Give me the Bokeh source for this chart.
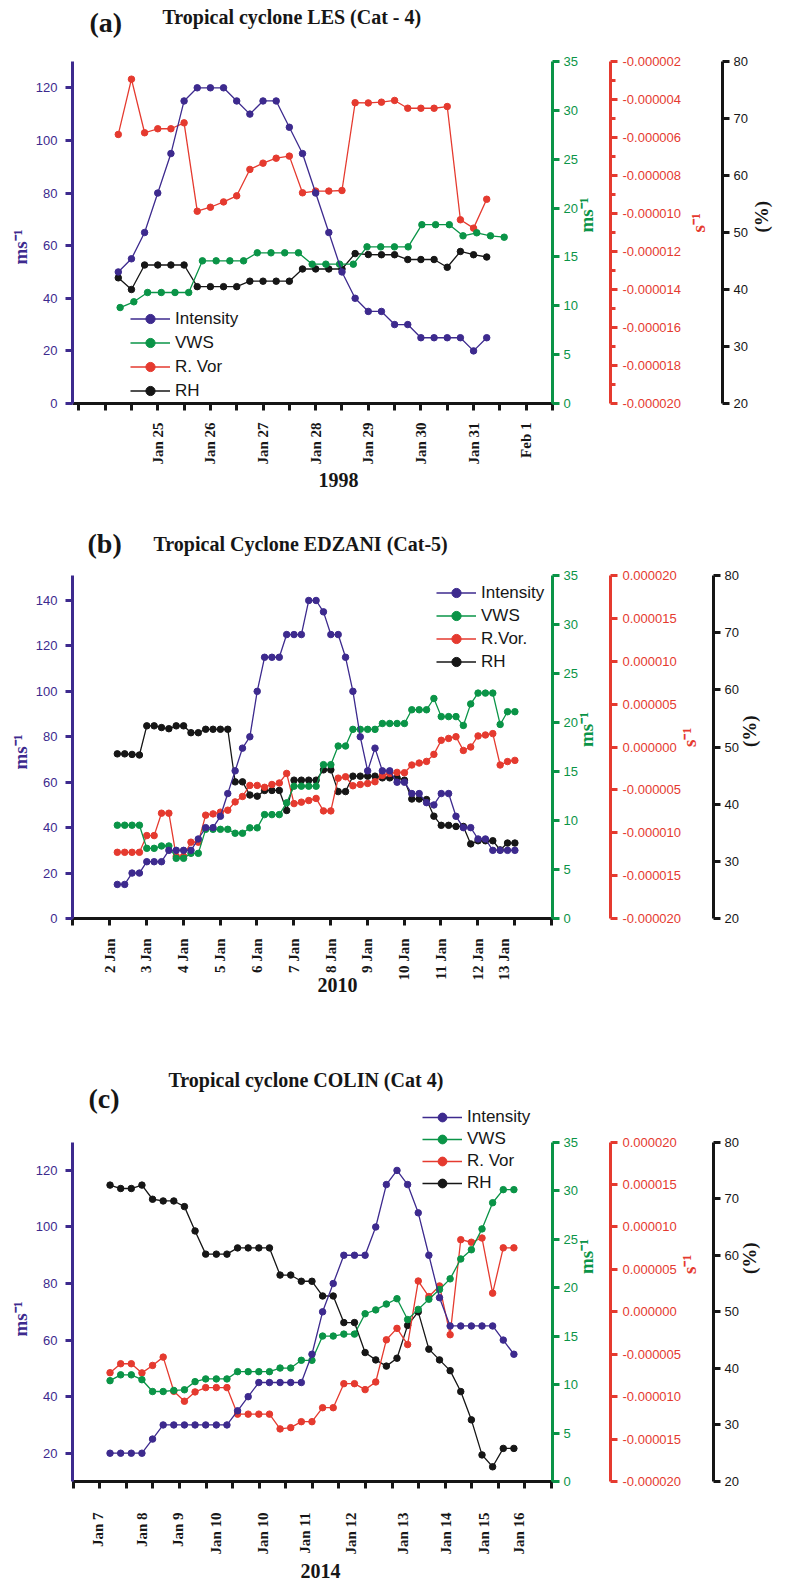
import math
from bokeh.plotting import figure
from bokeh.models import (Range1d, LinearAxis, FixedTicker, NumeralTickFormatter,
                          CustomJSTickFormatter, Legend, LegendItem, Label, Title)
from bokeh.layouts import column
from bokeh.embed import file_html
from bokeh.resources import INLINE

PURPLE = "#3d2a8e"
GREEN = "#0a9447"
RED = "#e53a2f"
BLACK = "#161616"
SERIF = "Liberation Serif"
SANS = "Liberation Sans"

# ---------------- (a) Tropical cyclone LES, 1998 ----------------
a_time0, a_dt = 24.25, 0.25          # Jan day, 6-hourly
a_vws_time0, a_vws_dt = 24.285, 0.2606
a_intensity = [50, 55, 65, 80, 95, 115, 120, 120, 120, 115, 110, 115, 115, 105, 95, 80, 65, 50,
               40, 35, 35, 30, 30, 25, 25, 25, 25, 20, 25]
a_vws = [9.82, 10.41, 11.36, 11.36, 11.36, 11.36, 14.6, 14.6, 14.6, 14.6, 15.42, 15.42, 15.42,
         15.42, 14.26, 14.26, 14.26, 14.26, 16.03, 16.03, 16.03, 16.03, 18.3, 18.3, 18.3, 17.16,
         17.47, 17.16, 17.02]
a_rvor = [-5.84e-6, -2.93e-6, -5.75e-6, -5.54e-6, -5.54e-6, -5.23e-6, -9.88e-6, -9.67e-6,
          -9.39e-6, -9.07e-6, -7.68e-6, -7.35e-6, -7.09e-6, -6.98e-6, -8.91e-6, -8.82e-6,
          -8.82e-6, -8.79e-6, -4.17e-6, -4.18e-6, -4.14e-6, -4.05e-6, -4.46e-6, -4.46e-6,
          -4.46e-6, -4.37e-6, -10.33e-6, -10.77e-6, -9.25e-6]
a_rh = [42.05, 40.0, 44.3, 44.3, 44.3, 44.3, 40.5, 40.5, 40.5, 40.5, 41.46, 41.46, 41.46, 41.46,
        43.6, 43.6, 43.6, 43.6, 46.3, 46.14, 46.1, 46.1, 45.26, 45.26, 45.26, 43.9, 46.67, 46.1,
        45.7]
a_tick_pos = [23.5, 24, 24.5, 25, 25.5, 26, 26.5, 27, 27.5, 28, 28.5, 29, 29.5, 30, 30.5, 31,
              31.5, 32, 32.5]
a_label_pos = [25, 26, 27, 28, 29, 30, 31, 32]
a_label_txt = ["Jan 25", "Jan 26", "Jan 27", "Jan 28", "Jan 29", "Jan 30", "Jan 31", "Feb 1"]

# ---------------- (b) Tropical Cyclone EDZANI, 2010 ----------------
b_time0, b_dt = 2.208, 0.2
b_intensity = [15, 15, 20, 20, 25, 25, 25, 30, 30, 30, 30, 35, 40, 40, 45, 55, 65, 75, 80, 100,
               115, 115, 115, 125, 125, 125, 140, 140, 135, 125, 125, 115, 100, 80, 65, 75, 65,
               65, 60, 60, 55, 55, 51, 50, 55, 55, 45, 40, 40, 35, 35, 30, 30, 30, 30]
b_vws = [9.52, 9.52, 9.52, 9.52, 7.16, 7.16, 7.4, 7.4, 6.14, 6.14, 6.65, 6.65, 9.1, 9.1, 9.1, 9.1,
         8.7, 8.7, 9.25, 9.25, 10.6, 10.6, 10.6, 11.8, 13.5, 13.5, 13.5, 13.5, 15.7, 15.7, 17.6,
         17.6, 19.3, 19.3, 19.3, 19.3, 19.9, 19.9, 19.9, 19.9, 21.3, 21.3, 21.3, 22.45, 20.6,
         20.6, 20.6, 19.7, 21.9, 23.0, 23.0, 23.0, 19.8, 21.1, 21.1]
b_rvor = [-12.28e-6, -12.28e-6, -12.28e-6, -12.28e-6, -10.33e-6, -10.33e-6, -7.72e-6, -7.72e-6,
          -12.75e-6, -12.75e-6, -11.1e-6, -11.1e-6, -7.95e-6, -7.8e-6, -7.6e-6, -7.37e-6,
          -6.4e-6, -5.77e-6, -4.48e-6, -4.48e-6, -4.7e-6, -4.37e-6, -4.2e-6, -3.08e-6, -6.6e-6,
          -6.43e-6, -6.24e-6, -6.0e-6, -7.45e-6, -7.45e-6, -3.63e-6, -3.47e-6, -4.52e-6,
          -4.37e-6, -4.25e-6, -4.05e-6, -3.31e-6, -3.08e-6, -2.96e-6, -3.0e-6, -2.1e-6,
          -1.87e-6, -1.68e-6, -0.86e-6, 0.78e-6, 1.0e-6, 1.2e-6, -0.4e-6, 0.0, 1.29e-6, 1.4e-6,
          1.56e-6, -2.1e-6, -1.7e-6, -1.56e-6]
b_rh = [48.8, 48.8, 48.7, 48.6, 53.7, 53.7, 53.4, 53.2, 53.7, 53.7, 52.5, 52.5, 53.1, 53.1, 53.1,
        53.1, 43.9, 43.9, 41.6, 41.4, 42.4, 42.4, 42.4, 38.9, 44.2, 44.2, 44.2, 44.2, 46.0, 46.0,
        42.2, 42.2, 44.9, 44.9, 44.9, 44.9, 44.6, 44.6, 44.6, 44.2, 40.9, 40.9, 40.8, 37.9, 36.3,
        36.3, 36.1, 36.1, 33.05, 33.6, 33.6, 33.6, 32.0, 33.2, 33.2]
b_tick_pos = [1, 2, 3, 4, 5, 6, 7, 8, 9, 10, 11, 12, 13, 14]
b_label_pos = [2, 3, 4, 5, 6, 7, 8, 9, 10, 11, 12, 12.7]
b_label_txt = ["2 Jan", "3 Jan", "4 Jan", "5 Jan", "6 Jan", "7 Jan", "8 Jan", "9 Jan", "10 Jan",
               "11 Jan", "12 Jan", "13 Jan"]

# ---------------- (c) Tropical cyclone COLIN, 2014 ----------------
c_time0, c_dt = 1.387, 0.4
c_intensity = [20, 20, 20, 20, 25, 30, 30, 30, 30, 30, 30, 30, 35, 40, 45, 45, 45, 45, 45, 55, 70,
               80, 90, 90, 90, 100, 115, 120, 115, 105, 90, 75, 65, 65, 65, 65, 65, 60, 55]
c_vws = [10.4, 11.0, 11.0, 10.5, 9.28, 9.28, 9.39, 9.46, 10.3, 10.58, 10.58, 10.58, 11.33, 11.33,
         11.33, 11.33, 11.7, 11.7, 12.5, 12.5, 15.0, 15.0, 15.2, 15.2, 17.3, 17.7, 18.3, 18.85,
         16.7, 17.75, 18.8, 19.8, 20.9, 22.95, 23.9, 26.05, 28.75, 30.1, 30.1]
c_rvor = [-7.18e-6, -6.12e-6, -6.12e-6, -7.2e-6, -6.32e-6, -5.34e-6, -9.37e-6, -10.54e-6,
          -9.44e-6, -8.93e-6, -8.93e-6, -8.93e-6, -12.06e-6, -12.06e-6, -12.06e-6, -12.06e-6,
          -13.8e-6, -13.65e-6, -12.95e-6, -12.95e-6, -11.3e-6, -11.3e-6, -8.47e-6, -8.47e-6,
          -9.17e-6, -8.27e-6, -3.3e-6, -1.95e-6, -3.86e-6, 3.63e-6, 1.8e-6, 3.05e-6, -2.7e-6,
          8.5e-6, 8.2e-6, 8.7e-6, 2.2e-6, 7.54e-6, 7.54e-6]
c_rh = [72.4, 71.8, 71.8, 72.4, 69.9, 69.6, 69.6, 68.6, 64.3, 60.2, 60.2, 60.2, 61.3, 61.3, 61.3,
        61.3, 56.5, 56.5, 55.4, 55.4, 52.8, 52.8, 48.1, 48.1, 42.8, 41.5, 40.4, 41.8, 47.6, 50.0,
        43.4, 41.5, 39.6, 35.9, 30.9, 24.7, 22.6, 25.85, 25.85]
c_tick_pos = list(range(0, 19))
c_label_pos = [0.95, 2.58, 3.95, 5.37, 7.16, 8.73, 10.44, 12.41, 14.03, 15.47, 16.79]
c_label_txt = ["Jan 7", "Jan 8", "Jan 9", "Jan 10", "Jan 10", "Jan 11", "Jan 12", "Jan 13",
               "Jan 14", "Jan 15", "Jan 16"]

SUP = "ms\u207b\u00b9"
SSUP = "s\u207b\u00b9"
W = 786
BL, BR = 72, 234          # common left / right borders (frames are aligned in the column)


def style_axis(ax, color, tick_out=7, label_standoff=6, title_standoff=4):
    ax.axis_line_color = color
    ax.axis_line_width = 3
    ax.major_tick_line_color = color
    ax.major_tick_line_width = 3
    ax.major_tick_out = tick_out
    ax.major_tick_in = 0
    ax.minor_tick_line_color = None
    ax.major_label_text_color = color
    ax.major_label_text_font = SANS
    ax.major_label_text_font_size = "13px"
    ax.major_label_standoff = label_standoff
    ax.axis_label_text_color = color
    ax.axis_label_text_font = SERIF
    ax.axis_label_text_font_style = "bold"
    ax.axis_label_text_font_size = "19px"
    ax.axis_label_standoff = title_standoff


def make_header(height, texts):
    h = figure(width=W, height=height, output_backend="svg", toolbar_location=None,
               x_range=Range1d(BL, W - BR), y_range=Range1d(height, 0),
               min_border_left=BL, min_border_right=BR, min_border_top=0, min_border_bottom=0,
               x_axis_location=None, y_axis_location=None)
    try:
        h.title = None
    except Exception:
        pass
    h.outline_line_color = None
    h.grid.visible = False
    for (px, py, txt, size) in texts:
        h.add_layout(Label(x=px, y=py, text=txt, text_font=SERIF, text_font_style="bold",
                           text_font_size=size, text_align="left", text_baseline="middle",
                           text_color=BLACK))
    return h


def make_panel(cfg):
    h, bb, bt, top_px = cfg["height"], cfg["bb"], cfg["bt"], cfg["axis_top"]
    bl, br = BL, BR
    bottom_px = h - bb
    hax = bottom_px - top_px                 # pixel height of the y axes
    hfr = bottom_px - bt                     # pixel height of the frame

    def ext(lo, hi):
        if hfr == hax:
            return (lo, hi)
        return (lo, lo + (hi - lo) * hfr / hax)

    ylo, yhi = cfg["yr"]
    p = figure(width=W, height=h, output_backend="svg", toolbar_location=None,
               x_range=Range1d(*cfg["xr"]), y_range=Range1d(*ext(ylo, yhi)),
               min_border_left=bl, min_border_right=br, min_border_top=bt, min_border_bottom=bb,
               x_axis_location=None, y_axis_location=None)
    try:
        p.title = None
    except Exception:
        pass
    p.outline_line_color = None
    p.grid.visible = False
    vlo, vhi = cfg["vor_r"]
    p.extra_y_ranges = {"vws": Range1d(*ext(0, 35)), "vor": Range1d(*ext(vlo, vhi)),
                        "rh": Range1d(*ext(20, 80))}

    # x axis: tick marks as minor ticks, labels at their own positions
    fmt = CustomJSTickFormatter(args=dict(pos=cfg["label_pos"], txt=cfg["label_txt"]), code="""
        let s = "";
        for (let i = 0; i < pos.length; i++) { if (Math.abs(tick - pos[i]) < 1e-6) { s = txt[i]; } }
        return s;
    """)
    xax = LinearAxis(ticker=FixedTicker(ticks=cfg["label_pos"], minor_ticks=cfg["tick_pos"]),
                     formatter=fmt)
    xax.axis_line_color = BLACK
    xax.axis_line_width = 3
    xax.major_tick_line_color = None
    xax.major_tick_out = 0
    xax.major_tick_in = 0
    xax.minor_tick_line_color = BLACK
    xax.minor_tick_line_width = 3
    xax.minor_tick_out = 7
    xax.minor_tick_in = 0
    xax.major_label_orientation = math.pi / 2
    xax.major_label_standoff = cfg["xstand"]
    xax.major_label_text_font = SERIF
    xax.major_label_text_font_style = "bold"
    xax.major_label_text_font_size = "15px"
    xax.major_label_text_color = BLACK
    p.add_layout(xax, "below")

    # year under the axis
    yr_txt, yr_left, yr_stand = cfg["year"]
    yt = Title(text=yr_txt, align="left", offset=yr_left - bl, text_font=SERIF,
               text_font_style="bold", text_font_size="20px", text_color=BLACK, standoff=8)
    try:
        yt.standoff = yr_stand
    except Exception:
        pass
    p.add_layout(yt, "below")

    # left axis (intensity) with its title placed along the axis
    yax = LinearAxis(ticker=FixedTicker(ticks=cfg["yticks"]), bounds=(ylo, yhi))
    style_axis(yax, PURPLE, label_standoff=8, title_standoff=4)
    p.add_layout(yax, "left")
    p.add_layout(Title(text=SUP, align="left", offset=cfg["ylab_off"], text_font=SERIF,
                       text_font_style="bold", text_font_size="19px", text_color=PURPLE,
                       standoff=4), "left")

    # right axes
    gax = LinearAxis(y_range_name="vws", ticker=FixedTicker(ticks=[0, 5, 10, 15, 20, 25, 30, 35]),
                     axis_label=SUP, bounds=(0, 35))
    style_axis(gax, GREEN, label_standoff=4, title_standoff=6)
    rax = LinearAxis(y_range_name="vor",
                     ticker=FixedTicker(ticks=cfg["vor_ticks"], minor_ticks=cfg["vor_minor"]),
                     formatter=NumeralTickFormatter(format="0.000000"), axis_label=SSUP,
                     bounds=(vlo, vhi))
    style_axis(rax, RED, label_standoff=5, title_standoff=cfg["red_stand"])
    rax.minor_tick_line_color = RED
    rax.minor_tick_line_width = 3
    rax.minor_tick_out = 5
    rax.minor_tick_in = 0
    kax = LinearAxis(y_range_name="rh", ticker=FixedTicker(ticks=[20, 30, 40, 50, 60, 70, 80]),
                     axis_label="(%)", bounds=(20, 80))
    style_axis(kax, BLACK, label_standoff=4, title_standoff=cfg["blk_stand"])
    for ax in (gax, rax, kax):
        if "axis_label_orientation" in ax.properties():
            ax.axis_label_orientation = math.pi / 2
        p.add_layout(ax, "right")

    def series(x, y, color, rng):
        r1 = p.line(x, y, line_color=color, line_width=1.3, y_range_name=rng)
        r2 = p.scatter(x, y, size=6.5, fill_color=color, line_color=color, y_range_name=rng)
        return [r1, r2]

    n = len(cfg["intensity"])
    xs = [cfg["t0"] + cfg["dt"] * i for i in range(n)]
    nv = len(cfg["vws"])
    xv = [cfg["tv0"] + cfg["dtv"] * i for i in range(nv)]
    r_rh = series(xs, cfg["rh"], BLACK, "rh")
    r_vor = series(xs, cfg["rvor"], RED, "vor")
    r_vws = series(xv, cfg["vws"], GREEN, "vws")
    r_int = series(xs, cfg["intensity"], PURPLE, "default")

    labs = cfg["leg_labels"]
    leg = Legend(items=[LegendItem(label=labs[0], renderers=r_int),
                        LegendItem(label=labs[1], renderers=r_vws),
                        LegendItem(label=labs[2], renderers=r_vor),
                        LegendItem(label=labs[3], renderers=r_rh)],
                 location=cfg["leg_loc"], padding=0, margin=0, spacing=cfg["leg_sp"],
                 label_height=cfg["leg_h"], glyph_height=cfg["leg_h"], glyph_width=40,
                 label_standoff=5, label_text_font=SANS, label_text_font_size="17px",
                 label_text_color=BLACK, background_fill_alpha=0, border_line_alpha=0)
    p.add_layout(leg)

    # headings placed inside the frame (used where the frame reaches above the axes)
    xr0, xr1 = cfg["xr"]
    fw = W - bl - br
    for (px, py, txt, size) in cfg.get("texts", []):
        xd = xr0 + (px - bl) * (xr1 - xr0) / fw
        yd = ylo + (bottom_px - py) * (yhi - ylo) / hax
        p.add_layout(Label(x=xd, y=yd, text=txt, text_font=SERIF, text_font_style="bold",
                           text_font_size=size, text_align="left", text_baseline="middle",
                           text_color=BLACK))
    return p


ha = make_header(50, [(89, 22, "(a)", "28px"),
                      (162, 16, "Tropical cyclone LES (Cat - 4)", "20px")])

pa = make_panel(dict(
    height=450, bb=97, bt=11, axis_top=11, xr=(23.38, 32.5), yr=(0, 130),
    yticks=[0, 20, 40, 60, 80, 100, 120], ylab_off=139,
    vor_r=(-2.0e-5, -2.0e-6),
    vor_ticks=[-2.0e-5, -1.8e-5, -1.6e-5, -1.4e-5, -1.2e-5, -1.0e-5, -8e-6, -6e-6, -4e-6, -2e-6],
    vor_minor=[-1.9e-5, -1.7e-5, -1.5e-5, -1.3e-5, -1.1e-5, -9e-6, -7e-6, -5e-6, -3e-6],
    red_stand=14, blk_stand=11,
    tick_pos=a_tick_pos, label_pos=a_label_pos, label_txt=a_label_txt, xstand=12,
    year=("1998", 318, 6),
    t0=a_time0, dt=a_dt, tv0=a_vws_time0, dtv=a_vws_dt,
    intensity=a_intensity, vws=a_vws, rvor=a_rvor, rh=a_rh,
    leg_labels=["Intensity", "VWS", "R. Vor", "RH"], leg_loc=(58, 1), leg_sp=1, leg_h=23))

hb = make_header(62, [(87, 43, "(b)", "28px"),
                      (153, 43, "Tropical Cyclone EDZANI  (Cat-5)", "20px")])

pb = make_panel(dict(
    height=458, bb=102, bt=13, axis_top=13, xr=(0.99, 14.03), yr=(0, 151),
    yticks=[0, 20, 40, 60, 80, 100, 120, 140], ylab_off=149,
    vor_r=(-2.0e-5, 2.0e-5),
    vor_ticks=[-2.0e-5, -1.5e-5, -1.0e-5, -5e-6, 0, 5e-6, 1.0e-5, 1.5e-5, 2.0e-5],
    vor_minor=[], red_stand=5, blk_stand=8,
    tick_pos=b_tick_pos, label_pos=b_label_pos, label_txt=b_label_txt, xstand=13,
    year=("2010", 317, -16),
    t0=b_time0, dt=b_dt, tv0=b_time0, dtv=b_dt,
    intensity=b_intensity, vws=b_vws, rvor=b_rvor, rh=b_rh,
    leg_labels=["Intensity", "VWS", "R.Vor.", "RH"], leg_loc=(364, 245), leg_sp=0, leg_h=23))

pc = make_panel(dict(
    height=561, bb=98, bt=46, axis_top=122, xr=(-0.026, 18.04), yr=(10, 130),
    yticks=[20, 40, 60, 80, 100, 120], ylab_off=145,
    vor_r=(-2.0e-5, 2.0e-5),
    vor_ticks=[-2.0e-5, -1.5e-5, -1.0e-5, -5e-6, 0, 5e-6, 1.0e-5, 1.5e-5, 2.0e-5],
    vor_minor=[], red_stand=5, blk_stand=8,
    tick_pos=c_tick_pos, label_pos=c_label_pos, label_txt=c_label_txt, xstand=24,
    year=("2014", 300, 8),
    t0=c_time0, dt=c_dt, tv0=c_time0, dtv=c_dt,
    intensity=c_intensity, vws=c_vws, rvor=c_rvor, rh=c_rh,
    leg_labels=["Intensity", "VWS", "R. Vor", "RH"], leg_loc=(350, 287), leg_sp=0, leg_h=22,
    texts=[(88, 78, "(c)", "28px"),
           (168, 60, "Tropical cyclone COLIN (Cat 4)", "20px")]))

layout = column(ha, pa, hb, pb, pc)
open("out.html", "w").write(file_html(layout, INLINE))
